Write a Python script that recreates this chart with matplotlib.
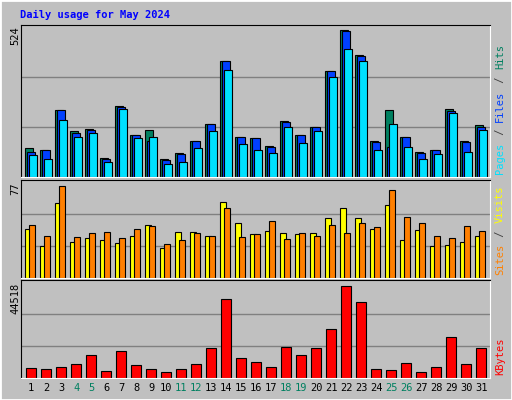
import matplotlib
matplotlib.use("Agg")
import matplotlib.pyplot as plt
from matplotlib.patches import Rectangle

days = list(range(1, 32))
weekend = [4, 5, 11, 12, 18, 19, 25, 26]

# top panel
hits = [100, 95, 235, 161, 168, 67, 249, 145, 165, 64, 85, 127, 186, 406, 138, 135, 110, 197, 145, 176, 371, 515, 427, 127, 233, 141, 88, 95, 239, 127, 183]
files = [88, 95, 233, 155, 165, 63, 246, 145, 127, 60, 82, 127, 186, 406, 138, 135, 106, 193, 145, 176, 371, 511, 424, 124, 106, 141, 85, 95, 232, 124, 176]
pages = [78, 64, 200, 138, 155, 54, 239, 135, 138, 47, 54, 102, 161, 375, 117, 96, 85, 176, 120, 161, 350, 448, 406, 96, 186, 106, 64, 81, 225, 89, 165]

# middle panel
sites = [39.6, 25.9, 60.4, 29.1, 32.3, 30.7, 28.3, 33.9, 42.7, 24.3, 37.1, 37.1, 33.9, 61.2, 44.1, 35.5, 37.9, 36.3, 35.5, 36.3, 48.3, 56.3, 48.3, 39.6, 58.5, 30.7, 38.8, 25.9, 26.7, 29.1, 33.9]
visits = [42.7, 33.9, 73.7, 33.1, 36.3, 37.1, 32.3, 39.6, 41.9, 27.3, 30.7, 36.3, 33.9, 56.3, 33.1, 35.5, 45.7, 31.5, 36.3, 33.9, 42.7, 36.3, 44.1, 41.1, 70.5, 49.1, 44.1, 33.9, 32.3, 41.9, 38.0]

# bottom panel
kbytes = [4359, 3892, 4826, 6227, 10430, 2957, 12298, 5760, 3892, 2491, 3892, 6227, 13699, 36582, 9029, 7161, 4826, 14166, 10430, 13699, 22571, 42650, 35182, 3892, 3425, 6693, 2491, 4826, 18835, 6227, 13699]

BG = "#c0c0c0"
MONO = "DejaVu Sans Mono"
FS = 7.5
CHAR_PX = 0.6 * FS * 100 / 72 + 0.3

fig = plt.figure(figsize=(5.12, 4.0), dpi=100, facecolor=BG)
W, H = 512, 400
fig.patches.append(Rectangle((0, 0), 1, 1, transform=fig.transFigure,
                             fill=False, edgecolor="white", lw=2))


def panel(top, bottom, ymax, label_val, parts):
    ax = fig.add_axes([20.7 / W, 1 - bottom / H, (490 - 20.7) / W, (bottom - top) / H])
    ax.set_facecolor(BG)
    ax.set_xlim(0.293, 31.58)
    ax.set_ylim(0, ymax)
    ax.set_xticks([])
    ax.set_yticks([])
    for s in ("top", "left"):
        ax.spines[s].set_color("black")
    for s in ("bottom", "right"):
        ax.spines[s].set_color("white")
    for f in (1 / 3, 2 / 3):
        ax.axhline(label_val * f, color="#808080", lw=1, zorder=0)
    fig.text(15 / W, 1 - (top + 2) / H, str(label_val), rotation=90, ha="center",
             va="top", family=MONO, fontsize=FS)
    # coloured legend on the right, reading upward
    y = bottom - 3
    for txt, col in parts:
        fig.text(500 / W, 1 - y / H, txt, rotation=90, ha="center", va="bottom",
                 family=MONO, fontsize=FS, color=col)
        y -= len(txt) * CHAR_PX
    return ax


C_HITS, C_FILES, C_PAGES = "#008060", "#0040ff", "#00e0ff"
C_SITES, C_VISITS, C_KB = "#ffff00", "#ff8000", "#ff0000"
kw = dict(align="edge", edgecolor="black", linewidth=0.8)

ax1 = panel(24.7, 177, 532, 524, [("Pages", C_PAGES), (" / ", "#404040"), ("Files", C_FILES),
                                  (" / ", "#404040"), ("Hits", C_HITS)])
ax1.bar([d - 0.4 for d in days], hits, 0.5, color=C_HITS, **kw)
ax1.bar([d - 0.27 for d in days], files, 0.5, color=C_FILES, **kw)
ax1.bar([d - 0.13 for d in days], pages, 0.5, color=C_PAGES, **kw)

ax2 = panel(180.3, 278.3, 78.6, 77, [("Sites", C_VISITS), (" / ", "#404040"), ("Visits", C_SITES)])
ax2.bar([d - 0.4 for d in days], sites, 0.4, color=C_SITES, **kw)
ax2.bar([d - 0.13 for d in days], visits, 0.4, color=C_VISITS, **kw)

ax3 = panel(280.3, 377.7, 45500, 44518, [("KBytes", C_KB)])
ax3.bar([d - 0.33 for d in days], kbytes, 0.67, color=C_KB, **kw)

for d in days:
    x = ax3.transData.transform((d, 0))[0]
    fig.text(x / W, 1 - 388 / H, str(d), ha="center", va="center", family=MONO,
             fontsize=FS, color="#008060" if d in weekend else "black")

fig.text(20 / W, 1 - 15 / H, "Daily usage for May 2024", color="#0000ff",
         family=MONO, fontweight="bold", fontsize=FS, va="center")

fig.savefig("out.png", dpi=100, facecolor=BG)
